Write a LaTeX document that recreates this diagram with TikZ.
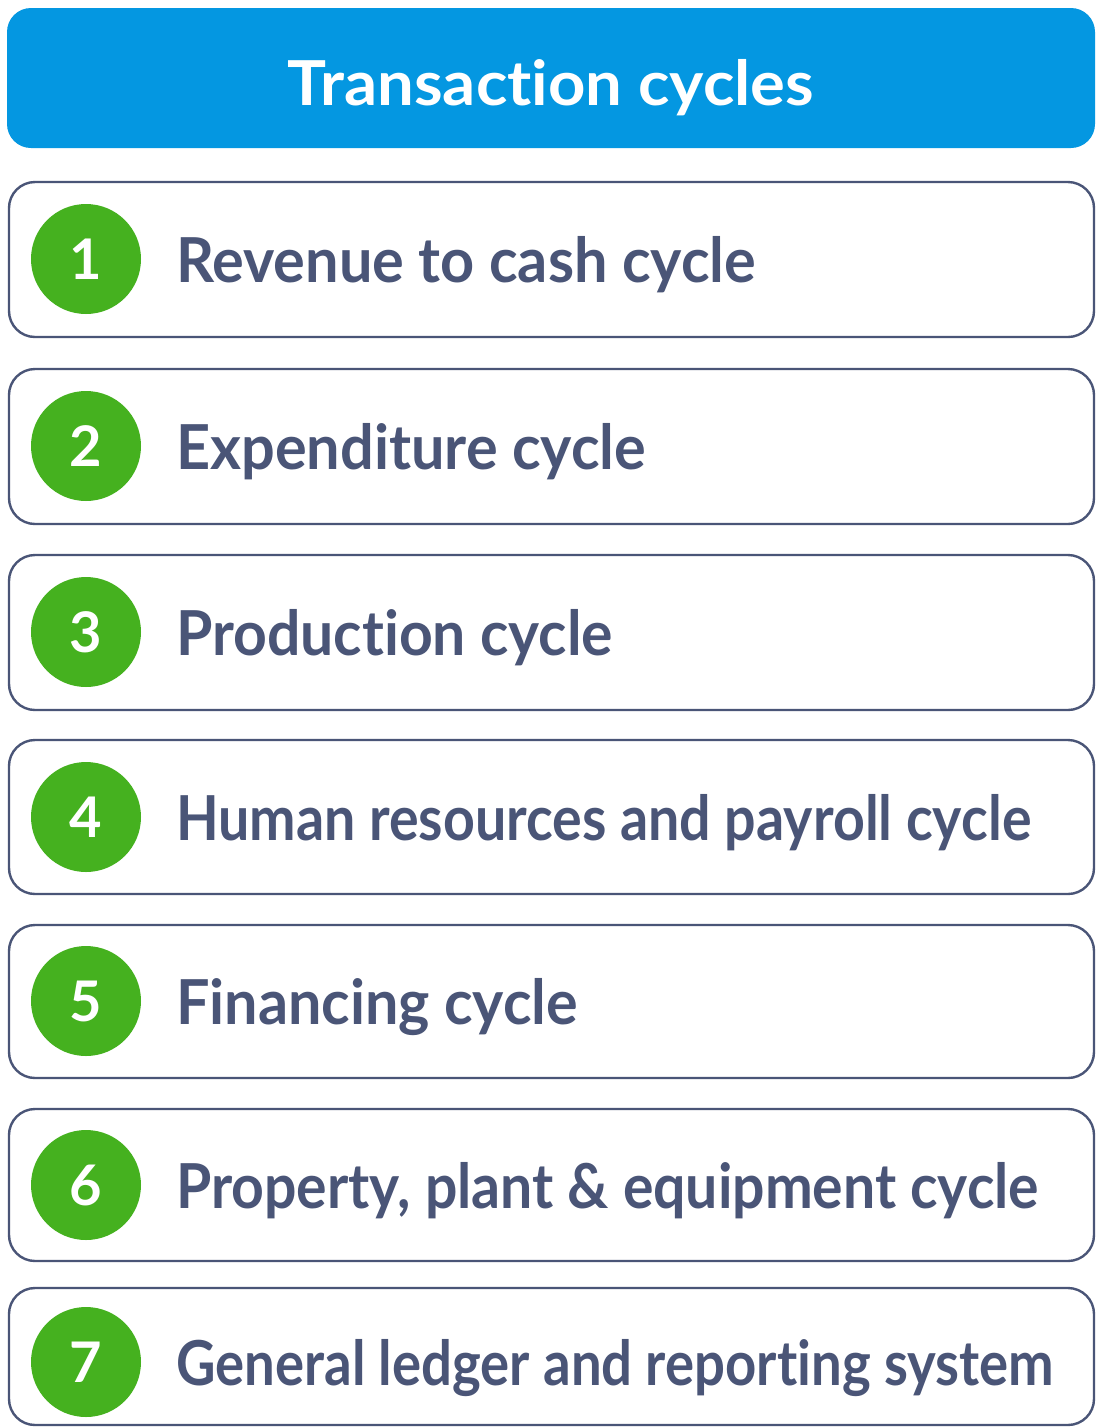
\documentclass[tikz,border=0pt]{standalone}
\usepackage{fontspec}
\setmainfont{Lato}[Ligatures=NoCommon]
\definecolor{hdrblue}{HTML}{0497E1}
\definecolor{slate}{HTML}{4A5577}
\definecolor{okgreen}{HTML}{45B11F}
\newcommand{\fitw}[2]{\resizebox{#1pt}{\height}{#2}}
\tikzset{
  hdr/.style={fill=hdrblue, draw=none, rounded corners=24pt},
  rowbox/.style={draw=slate, line width=2.4pt, fill=white, rounded corners=26pt},
  numdot/.style={circle, fill=okgreen, minimum size=110pt, inner sep=0pt, text=white, font=\fontsize{56}{60}\selectfont\bfseries},
  rowtext/.style={anchor=base west, text=slate, inner sep=0pt, font=\fontsize{62}{70}\selectfont\bfseries},
}
\begin{document}
\begin{tikzpicture}[x=1pt,y=-1pt]
\useasboundingbox (0,0) rectangle (1102,1428);
\fill[white] (0,0) rectangle (1102,1428);
\draw[hdr] (7,8) rectangle (1095,148);
\node[anchor=base, inner sep=0pt, text=white, font=\fontsize{62}{70}\selectfont\bfseries] (title) at (551,105) {\fitw{526}{Transaction cycles}};
\foreach \i/\top/\bot/\cy/\w/\txt in {
  1/182/337/259/580/Revenue to cash cycle,
  2/369/524/446/470/Expenditure cycle,
  3/555/710/632/437/Production cycle,
  4/740/894/817/855/Human resources and payroll cycle,
  5/925/1078/1001/402/Financing cycle,
  6/1109/1261/1185/863/{Property, plant \& equipment cycle},
  7/1288/1425/1362/878/General ledger and reporting system}{
  \draw[rowbox] (9,\top) rectangle (1094,\bot);
  \node[numdot] (n\i) at (86,\cy) {\i};
  \node[rowtext] (t\i) at (176,\cy+23) {\fitw{\w}{\txt}};
}
\end{tikzpicture}
\end{document}
